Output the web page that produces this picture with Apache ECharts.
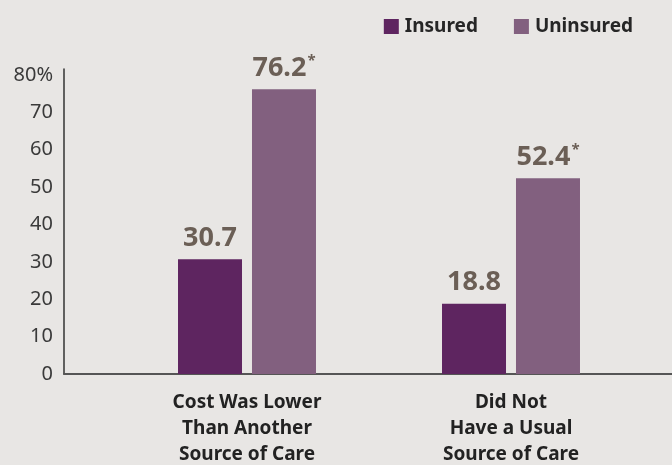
<!DOCTYPE html>
<html>
<head>
<meta charset="utf-8">
<script src="https://cdn.jsdelivr.net/npm/echarts@6/dist/echarts.min.js"></script>
<style>
html,body{margin:0;padding:0;background:#e8e6e4;}
#chart{width:672px;height:465px;}
</style>
</head>
<body>
<div id="chart"></div>
<script>
var categories = ['Cost Was Lower\nThan Another\nSource of Care', 'Did Not\nHave a Usual\nSource of Care'];
var insured = [30.7, 18.8];
var uninsured = [76.2, 52.4];
var uninsuredMarks = ['*', '*'];
var yTicks = [0, 10, 20, 30, 40, 50, 60, 70, 80];

var chart = echarts.init(document.getElementById('chart'));
var FONT = 'Noto Sans';
var yMax = 81.6;
var valueLabel = {
  v: {fontFamily: FONT, fontSize: 27, fontWeight: 'bold', color: '#6b5f56', lineHeight: 30},
  s: {fontFamily: FONT, fontSize: 15, fontWeight: 'bold', color: '#6b5f56', verticalAlign: 'top', lineHeight: 30, padding: [0, 0, 12, 1]}
};
chart.setOption({
  backgroundColor: '#e8e6e4',
  animation: false,
  legend: {
    right: 34, top: 12,
    itemWidth: 15, itemHeight: 15, itemGap: 36,
    icon: 'rect',
    textStyle: {fontFamily: FONT, fontSize: 19, fontWeight: 'bold', color: '#262626', padding: [0, 0, 0, 1]},
    data: ['Insured', 'Uninsured']
  },
  grid: [
    {left: 64, right: 0, top: 69, bottom: 91, outerBoundsMode: 'none', containLabel: false},
    {left: 115, right: 29, top: 69, bottom: 91, outerBoundsMode: 'none', containLabel: false}
  ],
  xAxis: [
    {gridIndex: 0, type: 'value', min: 0, max: 1,
     axisLine: {show: true, lineStyle: {color: '#555', width: 2}},
     axisTick: {show: false}, axisLabel: {show: false}, splitLine: {show: false}},
    {gridIndex: 1, type: 'category', data: categories,
     axisLine: {show: false}, axisTick: {show: false},
     axisLabel: {margin: 16, fontFamily: FONT, fontSize: 19, fontWeight: 'bold', color: '#222', lineHeight: 26}}
  ],
  yAxis: [
    {gridIndex: 0, type: 'value', min: 0, max: yMax, interval: 10,
     axisLine: {show: true, lineStyle: {color: '#333', width: 1.5}},
     axisTick: {show: false}, splitLine: {show: false},
     axisLabel: {showMaxLabel: false, margin: 11, fontFamily: FONT, fontSize: 20, color: '#3a3a3a',
       formatter: function (v) { if (yTicks.indexOf(v) < 0) return ''; return v === 80 ? v + '%' : String(v); }}},
    {gridIndex: 1, type: 'value', min: 0, max: yMax, show: false}
  ],
  series: [
    {name: 'Insured', type: 'bar', xAxisIndex: 1, yAxisIndex: 1, data: insured,
     barWidth: 64, barGap: '15.6%', itemStyle: {color: '#5e2560'},
     label: {show: true, position: 'top', distance: 6,
       formatter: function (p) { return '{v|' + p.value + '}'; }, rich: valueLabel}},
    {name: 'Uninsured', type: 'bar', xAxisIndex: 1, yAxisIndex: 1, data: uninsured,
     barWidth: 64, itemStyle: {color: '#82607f'},
     label: {show: true, position: 'top', distance: 6,
       formatter: function (p) { return '{v|' + p.value + '}{s|' + uninsuredMarks[p.dataIndex] + '}'; }, rich: valueLabel}}
  ]
});
</script>
</body>
</html>
